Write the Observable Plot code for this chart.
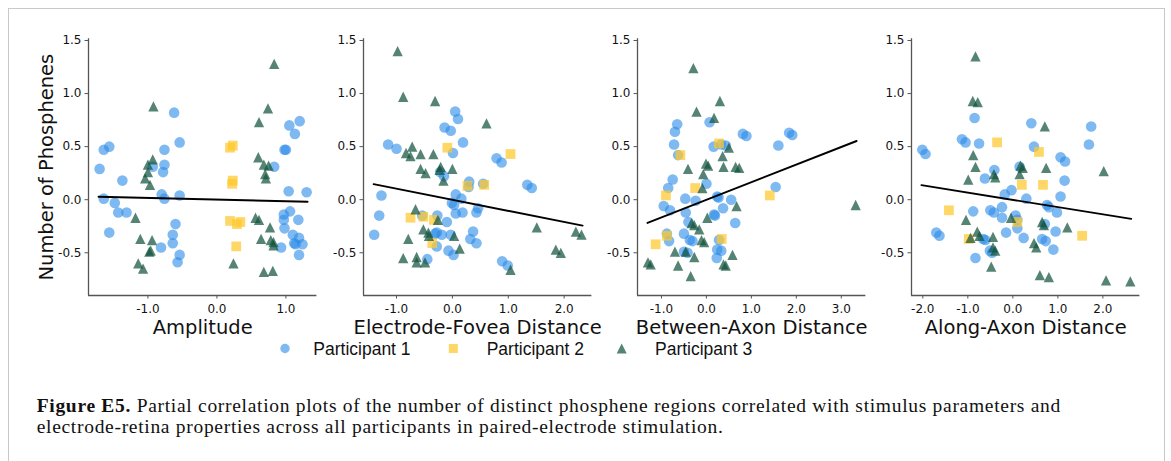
<!DOCTYPE html>
<html><head><meta charset="utf-8">
<script src="https://cdn.jsdelivr.net/npm/d3@7"></script>
<script src="https://cdn.jsdelivr.net/npm/@observablehq/plot@0.6"></script>
<style>
body{margin:0;background:#fff;}
#fig{position:relative;width:1171px;height:461px;overflow:hidden;background:#fff;}
#frame{position:absolute;left:8px;top:8px;width:1157px;height:480px;border:1.5px solid #c9c9c9;box-sizing:border-box;}
#fig svg{position:absolute;top:0;}
</style></head><body><div id="fig"><div id="frame"></div></div>
<script>
// ---------- data ----------
const participants = ["Participant 1", "Participant 2", "Participant 3"];
const panelTitles = ["Amplitude", "Electrode-Fovea Distance", "Between-Axon Distance", "Along-Axon Distance"];
const yTicks = [-0.5, 0.0, 0.5, 1.0, 1.5];
const ampTicks = [-1, 0, 1];
const efdTicks = [-1, 0, 1, 2];
const badTicks = [-1, 0, 1, 2, 3];
const aadTicks = [-2, -1, 0, 1, 2];

const amp1 = [[-1.70,0.29],[-1.64,0.47],[-1.56,0.50],[-1.64,0.01],[-1.48,-0.03],[-1.56,-0.31],[-1.43,-0.12],[-1.37,0.18],[-1.31,-0.12],[-0.93,0.31],[-0.76,0.33],[-0.76,0.47],[-0.78,0.26],[-0.80,0.05],[-0.76,0.01],[-0.81,-0.45],[-0.62,0.82],[-0.54,0.54],[-0.54,0.04],[-0.60,-0.23],[-0.64,-0.33],[-0.64,-0.41],[-0.54,-0.52],[-0.57,-0.59],[1.05,0.70],[1.20,0.74],[1.13,0.62],[0.98,0.47],[1.00,0.47],[0.83,0.31],[1.04,0.08],[1.30,0.07],[1.06,-0.11],[0.97,-0.14],[0.97,-0.19],[0.98,-0.27],[1.18,-0.19],[1.10,-0.33],[1.12,-0.41],[1.19,-0.36],[1.24,-0.42],[1.19,-0.52],[0.93,-0.45],[1.14,-0.42]];
const amp2 = [[0.19,0.49],[0.23,0.51],[0.23,0.18],[0.22,0.15],[0.19,-0.20],[0.29,-0.23],[0.34,-0.21],[0.28,-0.44]];
const amp3 = [[-0.92,0.88],[-0.93,0.38],[-1.00,0.33],[-1.00,0.26],[-1.04,0.20],[-0.97,0.14],[-1.18,-0.17],[-1.11,-0.37],[-0.94,-0.38],[-0.96,-0.48],[-0.98,-0.49],[-1.14,-0.60],[-1.07,-0.65],[0.83,1.28],[0.74,0.86],[0.61,0.73],[0.60,0.40],[0.68,0.33],[0.75,0.32],[0.70,0.24],[0.71,0.20],[0.56,-0.17],[0.61,-0.19],[0.77,-0.26],[0.64,-0.37],[0.78,-0.38],[0.82,-0.40],[0.82,-0.43],[0.24,-0.60],[0.68,-0.68],[0.81,-0.67]];

const efd1 = [[-1.40,-0.33],[-1.31,-0.15],[-1.27,0.04],[-1.15,0.52],[-1.00,0.48],[-0.22,0.26],[-0.15,0.22],[-0.14,0.68],[-0.03,0.65],[0.05,0.83],[0.10,0.76],[0.19,0.54],[0.01,0.44],[0.06,0.05],[0.16,0.01],[-0.01,-0.03],[0.03,-0.05],[0.06,-0.13],[0.18,-0.12],[0.30,0.17],[0.29,0.12],[0.55,0.15],[0.46,-0.08],[0.43,-0.12],[0.37,-0.30],[0.32,-0.37],[0.43,-0.41],[-0.10,-0.21],[-0.27,-0.15],[-0.28,-0.31],[-0.31,-0.32],[-0.19,-0.33],[-0.28,-0.44],[-0.03,-0.33],[-0.07,-0.48],[0.02,-0.52],[-0.45,-0.56],[0.89,-0.58],[0.99,-0.62],[0.79,0.39],[0.88,0.35],[1.34,0.14],[1.42,0.11],[-0.54,-0.15]];
const efd2 = [[-0.09,0.49],[1.04,0.43],[0.27,0.13],[0.57,0.14],[-0.75,-0.17],[-0.52,-0.16],[-0.33,-0.19],[-0.36,-0.41]];
const efd3 = [[-0.98,1.40],[-0.88,0.97],[-0.31,0.93],[0.61,0.72],[-0.72,0.50],[-0.83,0.44],[-0.75,0.41],[-0.57,0.43],[-0.34,0.43],[-0.57,0.29],[-0.48,0.25],[-0.21,0.31],[-0.23,0.28],[0.00,0.29],[-0.16,0.18],[-0.66,-0.09],[-0.52,-0.28],[-0.43,-0.31],[-0.42,-0.34],[-0.26,-0.19],[0.03,-0.34],[-0.79,-0.37],[-0.88,-0.55],[-0.64,-0.54],[-0.64,-0.59],[-0.49,-0.59],[0.13,-0.46],[1.04,-0.66],[1.51,-0.26],[1.85,-0.47],[1.94,-0.50],[2.21,-0.30],[2.31,-0.33]];

const bad1 = [[-0.65,0.71],[-0.70,0.64],[-0.72,0.52],[-0.63,0.42],[-0.75,0.19],[-0.85,0.11],[-0.95,-0.06],[-0.81,-0.10],[-0.88,-0.32],[-0.83,-0.39],[-0.47,0.01],[-0.46,-0.12],[-0.40,-0.21],[-0.50,-0.32],[-0.37,-0.38],[-0.31,-0.39],[-0.50,-0.49],[-0.42,-0.50],[-0.24,-0.01],[0.00,0.15],[0.07,0.73],[0.16,0.50],[0.33,0.52],[0.43,0.51],[0.24,0.03],[0.27,0.02],[0.17,-0.14],[0.19,-0.15],[0.37,-0.08],[0.55,0.00],[0.64,-0.22],[0.28,-0.38],[0.24,-0.47],[0.33,-0.48],[0.23,-0.55],[0.81,0.62],[0.89,0.60],[1.60,0.51],[1.54,0.12],[1.84,0.63],[1.91,0.61]];
const bad2 = [[-0.58,0.42],[0.28,0.53],[-0.25,0.11],[-0.90,0.04],[1.41,0.04],[-0.88,-0.34],[-1.13,-0.42],[0.34,-0.37]];
const bad3 = [[-0.29,1.24],[0.30,0.93],[-0.22,0.83],[0.17,0.77],[0.50,0.49],[0.36,0.41],[-0.41,0.29],[-0.01,0.34],[0.04,0.32],[0.38,0.31],[0.65,0.31],[0.73,0.30],[-0.07,0.24],[-0.09,0.11],[0.67,-0.06],[0.02,-0.17],[-0.33,-0.22],[-0.27,-0.24],[-0.16,-0.28],[-0.11,-0.38],[-0.05,-0.40],[-0.70,-0.49],[-0.46,-0.49],[-0.27,-0.54],[-0.63,-0.62],[-1.30,-0.59],[-1.24,-0.61],[0.38,-0.61],[0.43,-0.62],[0.58,-0.52],[-0.35,-0.72],[3.32,-0.05]];

const aad1 = [[-2.01,0.47],[-1.94,0.43],[-1.70,-0.31],[-1.63,-0.34],[-1.13,0.57],[-1.05,0.54],[-0.85,0.77],[-0.75,0.53],[-0.62,0.20],[-0.41,0.28],[-0.88,-0.11],[-0.66,-0.37],[-0.61,-0.38],[-0.83,-0.55],[-0.50,-0.10],[-0.42,-0.12],[-0.51,-0.48],[-0.46,-0.50],[-0.18,0.05],[-0.03,0.09],[-0.24,-0.07],[-0.24,-0.17],[0.06,-0.15],[0.10,-0.19],[0.10,-0.27],[-0.15,-0.31],[0.24,-0.36],[0.30,0.01],[0.15,0.31],[0.41,0.72],[0.47,0.50],[0.76,-0.05],[0.80,-0.07],[0.71,-0.23],[0.65,-0.37],[0.73,-0.39],[0.98,-0.12],[0.95,-0.30],[0.90,-0.47],[1.06,0.40],[1.16,0.36],[1.15,0.18],[1.06,0.03],[1.74,0.69],[1.69,0.52]];
const aad2 = [[-0.35,0.54],[0.58,0.45],[-1.42,-0.10],[0.20,0.14],[0.67,0.14],[0.10,-0.21],[-0.98,-0.37],[1.54,-0.34]];
const aad3 = [[-0.83,1.35],[-0.89,0.93],[-0.78,0.92],[-0.88,0.42],[-0.83,0.31],[-0.99,0.19],[-0.42,0.24],[-0.39,0.21],[0.17,0.32],[0.22,0.30],[0.15,0.24],[0.71,0.69],[0.74,0.30],[2.02,0.27],[-1.04,-0.19],[-0.04,-0.17],[-0.94,-0.36],[-0.79,-0.30],[-0.74,-0.34],[-0.44,-0.35],[-0.44,-0.45],[-0.39,-0.48],[0.47,-0.41],[0.52,-0.45],[0.65,-0.21],[0.69,-0.24],[1.21,-0.26],[-0.48,-0.63],[0.60,-0.71],[0.80,-0.73],[2.07,-0.76],[2.61,-0.77]];

// regression fit line endpoints (x pair, y pair) per panel
const fitX = [[-1.715, 1.314], [-1.41, 2.33], [-1.31, 3.34], [-2.03, 2.63]];
const fitY = [[0.028, -0.019], [0.147, -0.244], [-0.219, 0.553], [0.137, -0.181]];

const captionBold = "Figure E5.";
const captionLine1 = " Partial correlation plots of the number of distinct phosphene regions correlated with stimulus parameters and";
const captionLine2 = "electrode-retina properties across all participants in paired-electrode stimulation.";

// ---------- styling / layout ----------
const colors = ["#2a8be8", "#ffc72c", "#13533f"];
const opac = [0.6, 0.72, 0.72];
const yDomain = [-0.9025, 1.516];
const panels = [
  {data: [amp1, amp2, amp3], ticks: ampTicks, domain: [-1.861, 1.449], left: 88.3},
  {data: [efd1, efd2, efd3], ticks: efdTicks, domain: [-1.591, 2.496], left: 362.7},
  {data: [bad1, bad2, bad3], ticks: badTicks, domain: [-1.533, 3.547], left: 636.7},
  {data: [aad1, aad2, aad3], ticks: aadTicks, domain: [-2.251, 2.822], left: 911.0}
];
const plotW = 228.4, mL = 60, mR = 8, mT = 38.3, mB = 50, H = 345;

// matplotlib-like "^" triangle (width = height)
const triSymbol = {draw(ctx, size) {
  const s = Math.sqrt(2 * size);
  ctx.moveTo(0, -s / 2); ctx.lineTo(s / 2, s / 2); ctx.lineTo(-s / 2, s / 2); ctx.closePath();
}};
const symbols = ["circle", "square", triSymbol];
const radii = [5.3, 5.5, 4.1];

const fig = document.getElementById("fig");
const fmt = d => d.toFixed(1);

panels.forEach((p, i) => {
  const fit = fitX[i].map((x, k) => ({x, y: fitY[i][k]}));
  const marks = [
    Plot.axisX({ticks: p.ticks, tickFormat: fmt, tickSize: 3.5, tickPadding: 5, fontSize: 12, stroke: "#555", fill: "#111", label: null}),
    Plot.axisY({ticks: yTicks, tickFormat: fmt, tickSize: 3.5, tickPadding: 3.5, fontSize: 12, stroke: "#555", fill: "#111", label: null}),
    Plot.ruleX([p.domain[0]], {stroke: "#555", strokeWidth: 1.3}),
    Plot.ruleY([yDomain[0]], {stroke: "#555", strokeWidth: 1.3}),
    ...p.data.map((d, k) => Plot.dot(d, {x: v => v[0], y: v => v[1], r: radii[k], symbol: symbols[k], fill: colors[k], fillOpacity: opac[k]})),
    Plot.line(fit, {x: "x", y: "y", stroke: "#000", strokeWidth: 1.9}),
    Plot.text([panelTitles[i]], {text: d => d, frameAnchor: "bottom", textAnchor: "middle", lineAnchor: "bottom", dy: 39, fontSize: 19.5, fill: "#111"})
  ];
  if (i === 0) marks.push(Plot.text(["Number of Phosphenes"], {text: d => d, frameAnchor: "left", textAnchor: "middle", rotate: -90, lineAnchor: "bottom", dx: -36, fontSize: 19.5, fill: "#111"}));
  const svg = Plot.plot({
    width: mL + plotW + mR, height: H,
    marginLeft: mL, marginRight: mR, marginTop: mT, marginBottom: mB,
    x: {domain: p.domain},
    y: {domain: yDomain},
    style: {fontFamily: "DejaVu Sans", background: "transparent", overflow: "visible", color: "#111"},
    marks
  });
  svg.style.left = (p.left - mL) + "px";
  svg.style.maxWidth = "none";
  fig.appendChild(svg);
});

// ---------- legend + caption ----------
const over = d3.select(fig).append("svg").attr("width", 1171).attr("height", 461).style("left", "0px").style("pointer-events", "none");
const lg = [{mx: 285, tx: 313.3}, {mx: 453.3, tx: 486.7}, {mx: 621.7, tx: 655}];
const ly = 348.5;
over.append("circle").attr("cx", lg[0].mx).attr("cy", ly).attr("r", 4.7).attr("fill", colors[0]).attr("fill-opacity", opac[0]);
over.append("rect").attr("x", lg[1].mx - 4.5).attr("y", ly - 4.5).attr("width", 9).attr("height", 9).attr("fill", colors[1]).attr("fill-opacity", opac[1]);
over.append("path").attr("d", `M${lg[2].mx},${ly - 5}L${lg[2].mx + 5},${ly + 5}L${lg[2].mx - 5},${ly + 5}Z`).attr("fill", colors[2]).attr("fill-opacity", opac[2]);
participants.forEach((t, k) => {
  over.append("text").attr("x", lg[k].tx).attr("y", ly + 6.3).attr("font-family", "Liberation Sans, Arial, sans-serif").attr("font-size", 17.5).attr("fill", "#111").text(t);
});
const cap = over.append("g").attr("font-family", "Liberation Serif, Times New Roman, serif").attr("font-size", 19.5).attr("fill", "#111").attr("letter-spacing", "0.7px");
const t1 = cap.append("text").attr("x", 36.7).attr("y", 411.7);
t1.append("tspan").attr("font-weight", "bold").text(captionBold);
t1.append("tspan").text(captionLine1);
cap.append("text").attr("x", 36.7).attr("y", 433.3).text(captionLine2);
</script></body></html>
